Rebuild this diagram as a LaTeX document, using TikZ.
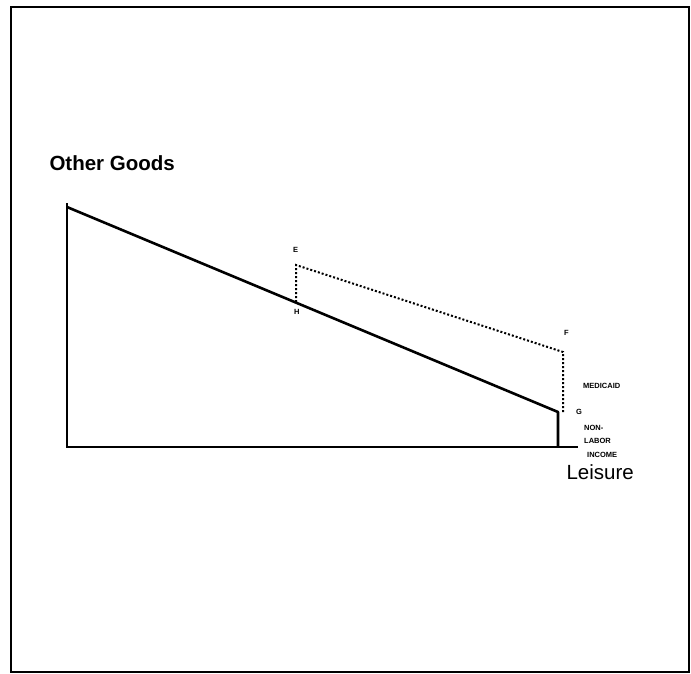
\documentclass[tikz,border=0pt]{standalone}
\usepackage{fontspec}
\setmainfont{Liberation Sans}
\begin{document}
\begin{tikzpicture}[
    x=1pt, y=-1pt,
    axe/.style={line width=2.6pt},     % axes et contrainte
    aide/.style={line width=2pt, dotted}, % contrainte avec Medicaid
    titre/.style={font=\fontsize{20.5}{21}\selectfont\bfseries, anchor=west},
    petit/.style={font=\fontsize{7.5}{8}\selectfont\bfseries, anchor=west, inner sep=0pt}
]
\useasboundingbox (0,0) rectangle (691,673);
% Cadre
\draw[line width=1.8pt] (11,7) rectangle (689,672);
% Axes
\coordinate (O) at (67,447);
\coordinate (Ytop) at (67,203);
\coordinate (Xend) at (578,447);
\draw[axe] (Ytop) -- (O) -- (Xend);
\node[titre] (yl) at (46,163) {Other Goods};
\node[titre, font=\fontsize{20.5}{21}\selectfont] (xl) at (563,472) {Leisure};
% Contrainte budgetaire
\coordinate (A) at (67,207);
\coordinate (H) at (296,302);
\coordinate (G) at (558,412);
\coordinate (Gb) at (558,447);
\draw[axe, line join=round] (A) -- (G) -- (Gb);
% Medicaid
\coordinate (E) at (296,265);
\coordinate (F) at (563,352);
\coordinate (Fb) at (563,412);
\draw[aide] (H) -- (E) -- (F) -- (Fb);
% Etiquettes
\node[petit] (lE) at (293,250) {E};
\node[petit] (lH) at (294,312) {H};
\node[petit] (lF) at (564,333) {F};
\node[petit] (lG) at (576,412) {G};
\node[petit] (lmed) at (583,386) {MEDICAID};
\node[petit] (lnon) at (584,428) {NON-};
\node[petit] (llab) at (584,441) {LABOR};
\node[petit] (linc) at (587,455) {INCOME};
\end{tikzpicture}
\end{document}
